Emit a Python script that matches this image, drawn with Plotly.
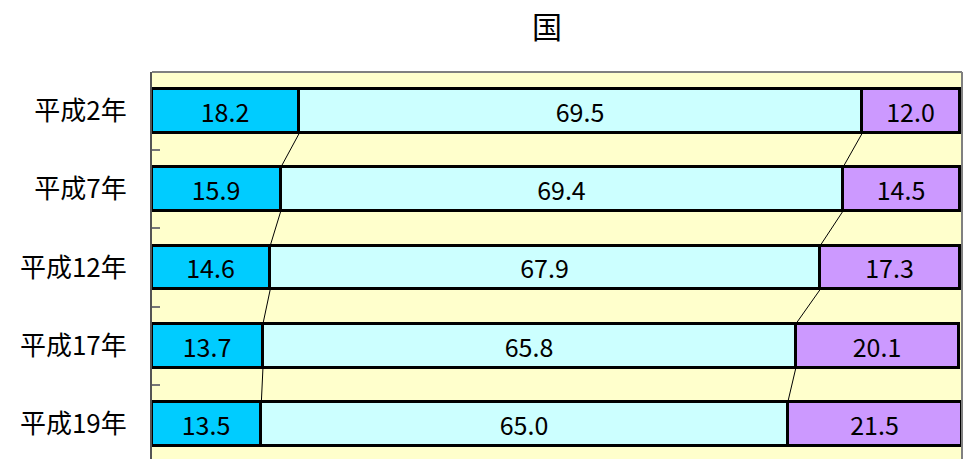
import plotly.graph_objects as go

# Age structure shares (%) by survey year
years = ["平成2年", "平成7年", "平成12年", "平成17年", "平成19年"]
young = [18.2, 15.9, 14.6, 13.7, 13.5]
working = [69.5, 69.4, 67.9, 65.8, 65.0]
elderly = [12.0, 14.5, 17.3, 20.1, 21.5]

colors = ["#00CCFF", "#CCFFFF", "#CC99FF"]
FONT = "Noto Sans CJK JP"
BAR_W = 0.56

pos = list(range(len(years)))

fig = go.Figure()
for vals, col in zip([young, working, elderly], colors):
    fig.add_trace(go.Bar(
        y=pos, x=vals, orientation="h", width=BAR_W,
        marker=dict(color=col, line=dict(color="black", width=3)),
        text=[f"{v:.1f}" for v in vals],
        textposition="inside", insidetextanchor="middle",
        constraintext="none",
        textfont=dict(family=FONT, size=25, color="black"),
        hoverinfo="skip", showlegend=False,
    ))

# Series lines joining the segment boundaries of neighbouring bars
cum1 = young
cum2 = [a + b for a, b in zip(young, working)]
lx, ly = [], []
for cum in (cum1, cum2):
    for i in range(len(pos) - 1):
        lx += [cum[i], cum[i + 1], None]
        ly += [pos[i] + BAR_W / 2, pos[i + 1] - BAR_W / 2, None]
fig.add_trace(go.Scatter(
    x=lx, y=ly, mode="lines", line=dict(color="black", width=1),
    hoverinfo="skip", showlegend=False,
))

fig.update_layout(
    width=963, height=459,
    margin=dict(l=152, r=1, t=72, b=0),
    paper_bgcolor="white", plot_bgcolor="#FFFFCC",
    barmode="stack", bargap=0,
    title=dict(text="国", x=547 / 963, xref="container", xanchor="center",
               y=1 - 27.5 / 459, yref="container", yanchor="middle",
               font=dict(family=FONT, size=30, color="black")),
    xaxis=dict(range=[0, 100], showticklabels=False, showgrid=False,
               zeroline=False, showline=False, ticks=""),
    yaxis=dict(range=[4.45, -0.5], tickvals=pos, ticktext=years,
               ticks="", showgrid=False, zeroline=False,
               showline=True, linecolor="#555555", linewidth=2,
               ticklabelstandoff=18,
               tickfont=dict(family=FONT, size=26, color="black"),
               minor=dict(tickvals=[0.5, 1.5, 2.5, 3.5], ticks="inside",
                          ticklen=8, tickcolor="#777777", tickwidth=2,
                          showgrid=False)),
    shapes=[dict(type="line", xref="paper", yref="paper",
                 x0=0, x1=1, y0=1, y1=1,
                 line=dict(color="#808080", width=2)),
            dict(type="line", xref="paper", yref="paper",
                 x0=1, x1=1, y0=0, y1=1,
                 line=dict(color="#808080", width=2))],
)

fig.write_html("out.html")
